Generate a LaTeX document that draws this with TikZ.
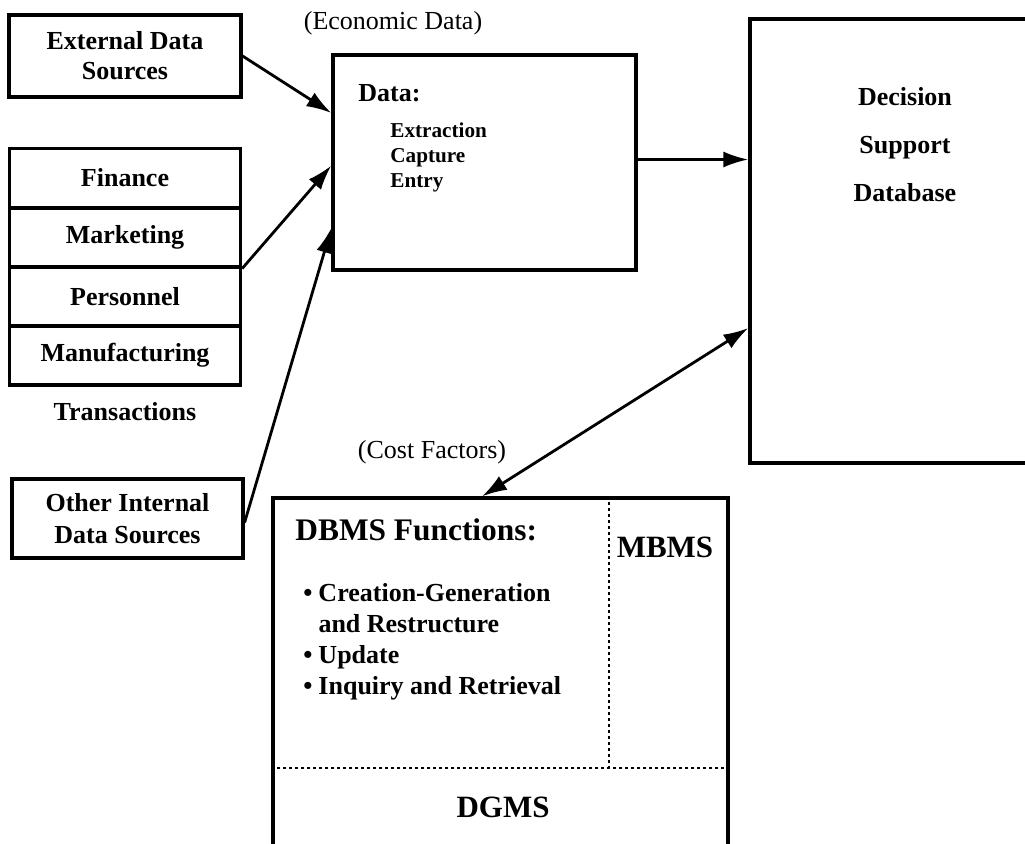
\documentclass[tikz,border=0pt]{standalone}
\usepackage{fontspec}
\setmainfont{Liberation Serif}
\usetikzlibrary{arrows.meta}

\begin{document}
\begin{tikzpicture}[x=0.5pt,y=-0.5pt,
      >={Latex[length=12.5pt,width=8pt]},
      srcbox/.style={draw,line width=1.6pt,inner sep=0pt,align=center,
        font=\fontsize{13}{15}\selectfont\bfseries},
      rowbox/.style={srcbox,minimum width=115.5pt,minimum height=29.5pt},
      bigbox/.style={draw,line width=1.6pt,inner sep=0pt},
      flow/.style={line width=1.4pt,->},
      twoway/.style={line width=1.4pt,<->},
      split/.style={line width=1.1pt,dash pattern=on 1.2pt off 1.8pt}]
      \useasboundingbox (0,0) rectangle (1025,843);
      \clip (0,0) rectangle (1025,843);
      % sources on the left
      \node[srcbox,minimum width=116pt,minimum height=41pt] (ext) at (125,56) {External Data\\Sources};
      \node[rowbox] (fin) at (125,178) {Finance};
      \node[rowbox] (mkt) at (125,237.5) {Marketing};
      \node[rowbox] (pers) at (125,296.5) {Personnel};
      \node[rowbox] (manu) at (125,355.5) {Manufacturing};
      \path (125,412) node[font=\fontsize{13}{15}\selectfont\bfseries] (trans) {Transactions};
      \node[srcbox,minimum width=115.5pt,minimum height=39.5pt,
        font=\fontsize{13}{16}\selectfont\bfseries] (other) at (127.5,518.5) {Other Internal\\Data Sources};
      % data capture box
      \node[bigbox,minimum width=151.5pt,minimum height=107.5pt] (data) at (484.5,162.5) {};
      \path (393,23) node[font=\fontsize{13}{15}\selectfont] (econ) {(Economic Data)};
      \path (358,93) node[anchor=west,inner sep=0pt,font=\fontsize{13}{15}\selectfont\bfseries] (datahd) {Data:};
      \path (390,157) node[anchor=west,inner sep=0pt,align=left,
        font=\fontsize{10.6}{12.5}\selectfont\bfseries] (steps) {Extraction\\Capture\\Entry};
      % decision support database
      \node[bigbox,minimum width=142.5pt,minimum height=222pt] (dsd) at (892.5,241) {};
      \path (905,145) node[align=center,font=\fontsize{13}{24}\selectfont\bfseries] (dsdtext) {Decision\\Support\\Database};
      % management systems
      \node[bigbox,minimum width=227.5pt,minimum height=174pt] (dbms) at (500.5,672) {};
      \path (432,452) node[font=\fontsize{13}{15}\selectfont] (cost) {(Cost Factors)};
      \coordinate (corner) at (609,768);
      \draw[split] (corner |- dbms.north) -- (corner);
      \draw[split] (corner -| dbms.west) -- (corner -| dbms.east);
      \path (295,530) node[anchor=west,inner sep=0pt,font=\fontsize{15.7}{18}\selectfont\bfseries] (fnhd) {DBMS Functions:};
      \path (665,547) node[font=\fontsize{15.5}{18}\selectfont\bfseries] (mbms) {MBMS};
      \path (303,641.5) node[anchor=west,inner sep=0pt,font=\fontsize{13}{15.5}\selectfont\bfseries] (fnlist)
        {\begin{tabular}{@{}l@{\hspace{3pt}}l@{}}
          \textbullet & Creation-Generation\\
                      & and Restructure\\
          \textbullet & Update\\
          \textbullet & Inquiry and Retrieval
        \end{tabular}};
      \path (503,807) node[font=\fontsize{15.5}{18}\selectfont\bfseries] (dgms) {DGMS};
      % connectors
      \draw[flow] (ext.east) -- ([yshift=24.75pt]data.west);
      \draw[flow] (mkt.south east) -- ([yshift=-1.5pt]data.west);
      \draw[flow] ([yshift=-2pt]other.east) -- ([yshift=-32.75pt]data.west);
      \draw[flow] ([yshift=1.5pt]data.east) -- ([yshift=1.5pt]data.east -| dsd.west);
      \draw[twoway] ([xshift=-9.25pt]dbms.north) -- ([yshift=-43.5pt]dsd.west);
\end{tikzpicture}
\end{document}
